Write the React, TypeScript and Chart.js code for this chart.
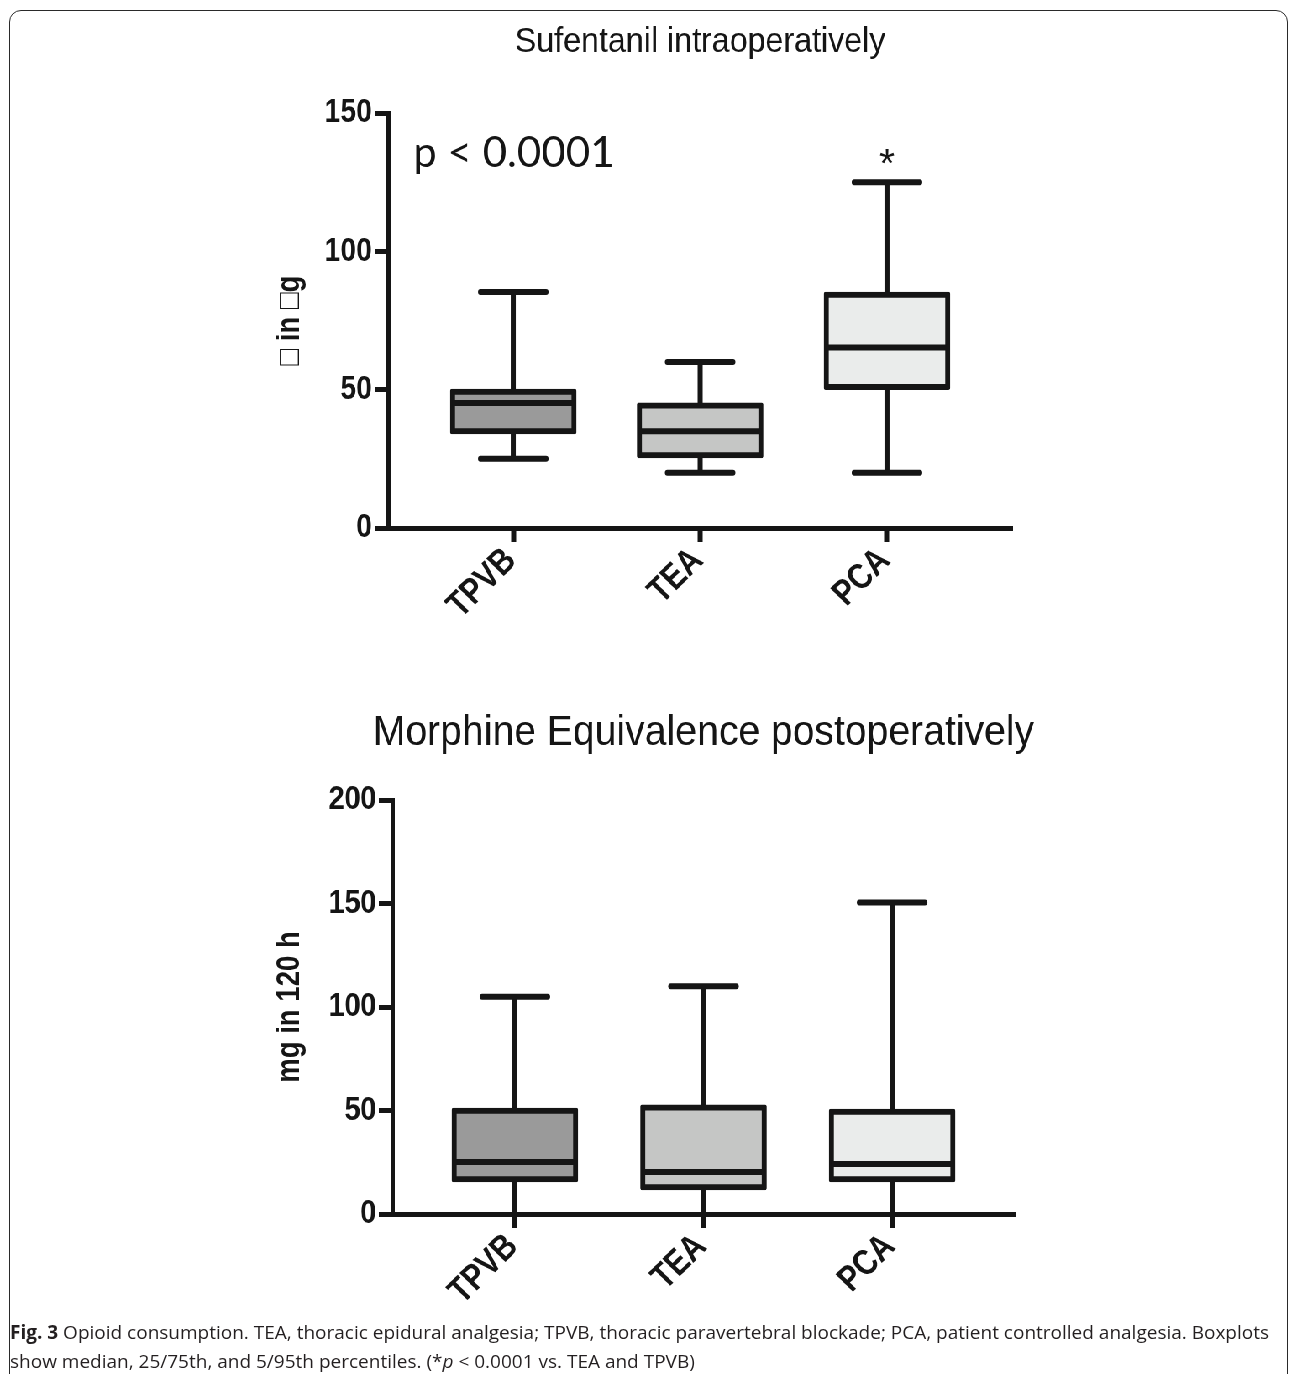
import React, { useEffect, useRef } from 'react';
import { Chart, registerables } from 'chart.js';

Chart.register(...registerables);

// ---------- data ----------
const categories = ['TPVB', 'TEA', 'PCA'];
const boxColors = ['#9a9a9a', '#c5c6c5', '#eaeceb'];

// Sufentanil intraoperatively (µg)
const sufLow = [25, 20, 20];
const sufQ1 = [34, 25.3, 50];
const sufMedian = [45.2, 35, 65.2];
const sufQ3 = [50.2, 45.2, 85.3];
const sufHigh = [85.3, 60, 125];
const sufTicks = [0, 50, 100, 150];

// Morphine equivalence postoperatively (mg in 120 h)
const morLow = [0, 0, 0];
const morQ1 = [15.5, 11.6, 15.5];
const morMedian = [25.1, 20.3, 24.2];
const morQ3 = [51.2, 52.7, 50.7];
const morHigh = [105, 110, 150.5];
const morTicks = [0, 50, 100, 150, 200];

// ---------- style ----------
const INK = '#151515';
const S = 0.84; // horizontal squeeze of the plot area
const FONT = '"Liberation Sans", Arial, sans-serif';
const FIG_W = 1536;

type Note = {
  text: string;
  font: string;
  narrow: number;
  rot: number;
  align: CanvasTextAlign;
  x: (c: any) => number;
  y: (c: any) => number;
};

const boxPlotPlugin = {
  id: 'boxPlot',
  beforeDatasetsDraw(chart: any, _a: any, o: any) {
    const { ctx } = chart;
    const x = chart.scales.x;
    const y = chart.scales.y;
    ctx.save();
    ctx.strokeStyle = INK;
    ctx.lineWidth = o.whiskerWidth;
    o.low.forEach((lo: number, i: number) => {
      const px = x.getPixelForValue(i);
      const half = o.capWidth / 2;
      const yHi = y.getPixelForValue(o.high[i]);
      const yLo = y.getPixelForValue(lo);
      ctx.lineCap = 'butt';
      ctx.beginPath();
      ctx.moveTo(px, y.getPixelForValue(o.q3[i]));
      ctx.lineTo(px, yHi);
      ctx.moveTo(px, y.getPixelForValue(o.q1[i]));
      ctx.lineTo(px, yLo);
      ctx.stroke();
      ctx.lineCap = 'round';
      ctx.beginPath();
      ctx.moveTo(px - half, yHi);
      ctx.lineTo(px + half, yHi);
      if (yLo < chart.chartArea.bottom - 3) {
        ctx.moveTo(px - half, yLo);
        ctx.lineTo(px + half, yLo);
      }
      ctx.stroke();
    });
    ctx.restore();
  },
  afterDatasetsDraw(chart: any, _a: any, o: any) {
    const { ctx } = chart;
    const y = chart.scales.y;
    const meta = chart.getDatasetMeta(0);
    ctx.save();
    ctx.strokeStyle = INK;
    ctx.lineWidth = o.medianWidth;
    ctx.lineCap = 'butt';
    o.median.forEach((m: number, i: number) => {
      const bar = meta.data[i];
      const half = bar.width / 2;
      const py = y.getPixelForValue(m);
      ctx.beginPath();
      ctx.moveTo(bar.x - half + 2, py);
      ctx.lineTo(bar.x + half - 2, py);
      ctx.stroke();
    });
    ctx.restore();
  },
  afterDraw(chart: any, _a: any, o: any) {
    const { ctx } = chart;
    ctx.save();
    ctx.fillStyle = INK;
    ctx.textBaseline = 'middle';
    (o.notes as Note[]).forEach((n) => {
      ctx.save();
      ctx.font = n.font;
      ctx.textAlign = n.align;
      ctx.translate(n.x(chart), n.y(chart));
      ctx.scale(1 / S, 1); // undo the page squeeze
      ctx.rotate(n.rot);
      ctx.scale(n.narrow, 1); // narrow glyphs along the text direction
      ctx.fillText(n.text, 0, 0);
      ctx.restore();
    });
    ctx.restore();
  },
};

type Spec = {
  low: number[];
  q1: number[];
  median: number[];
  q3: number[];
  high: number[];
  yTicks: number[];
  yTitle: string;
  xMin: number;
  xMax: number;
  padTop: number;
  padRight: number;
  yWidth: number;
  xHeight: number;
  notes: Note[];
};

function axisNotes(yTitle: string): Note[] {
  const labels: Note[] = categories.map((cat, i) => ({
    text: cat,
    font: `bold 36px ${FONT}`,
    narrow: 0.84,
    rot: -Math.PI / 4,
    align: 'right' as CanvasTextAlign,
    x: (c: any) => c.scales.x.getPixelForValue(i) - 3,
    y: (c: any) => c.chartArea.bottom + 27,
  }));
  const title: Note = {
    text: yTitle,
    font: `bold 32px ${FONT}`,
    narrow: 0.86,
    rot: -Math.PI / 2,
    align: 'center',
    x: (c: any) => c.scales.y.left + 35,
    y: (c: any) => (c.chartArea.top + c.chartArea.bottom) / 2,
  };
  return [...labels, title];
}

function buildConfig(sp: Spec): any {
  const yMax = sp.yTicks[sp.yTicks.length - 1];
  const gridBase = {
    display: true,
    drawOnChartArea: false,
    drawTicks: true,
    offset: false,
    tickColor: INK,
  };
  return {
    type: 'bar',
    data: {
      datasets: [
        {
          data: categories.map((_, i) => ({ x: i, y: [sp.q1[i], sp.q3[i]] })),
          backgroundColor: boxColors,
          borderColor: INK,
          borderWidth: 6,
          borderSkipped: false,
          borderRadius: 2,
          barThickness: 150,
        },
      ],
    },
    options: {
      responsive: false,
      animation: false,
      events: [],
      devicePixelRatio: 1,
      layout: { padding: { left: 310, right: sp.padRight, top: sp.padTop, bottom: 0 } },
      plugins: {
        legend: { display: false },
        tooltip: { enabled: false },
        title: { display: false },
        boxPlot: {
          low: sp.low,
          q1: sp.q1,
          median: sp.median,
          q3: sp.q3,
          high: sp.high,
          capWidth: 78,
          whiskerWidth: 6,
          medianWidth: 6,
          notes: [...axisNotes(sp.yTitle), ...sp.notes],
        },
      },
      scales: {
        x: {
          type: 'linear',
          offset: false,
          min: sp.xMin,
          max: sp.xMax,
          afterBuildTicks: (s: any) => {
            s.ticks = categories.map((_, i) => ({ value: i }));
          },
          afterFit: (s: any) => {
            s.height = sp.xHeight;
          },
          grid: { ...gridBase, tickLength: 14, tickWidth: 6 },
          border: { display: true, width: 5, color: INK },
          ticks: { display: false },
        },
        y: {
          min: 0,
          max: yMax,
          afterBuildTicks: (s: any) => {
            s.ticks = sp.yTicks.map((v) => ({ value: v }));
          },
          afterFit: (s: any) => {
            s.width = sp.yWidth;
          },
          grid: { ...gridBase, tickLength: 16, tickWidth: 5 },
          border: { display: true, width: 5, color: INK },
          ticks: {
            padding: 3,
            color: INK,
            font: { family: FONT, size: 34, weight: 'bold' },
          },
          title: { display: false },
        },
      },
    },
    plugins: [boxPlotPlugin],
  };
}

const sufSpec: Spec = {
  low: sufLow,
  q1: sufQ1,
  median: sufMedian,
  q3: sufQ3,
  high: sufHigh,
  yTicks: sufTicks,
  yTitle: '\u25A1 in \u25A1g',
  xMin: -0.67,
  xMax: 2.67,
  padTop: 113,
  padRight: FIG_W - 1205,
  yWidth: 462 - 310,
  xHeight: 132,
  notes: [
    {
      text: 'Sufentanil intraoperatively',
      font: `35px ${FONT}`,
      narrow: 0.92,
      rot: 0,
      align: 'center',
      x: (c) => (c.chartArea.left + c.chartArea.right) / 2,
      y: (c) => c.chartArea.top - 71,
    },
    {
      text: 'p < 0.0001',
      font: '42px Lato, "Open Sans", sans-serif',
      narrow: 1,
      rot: 0,
      align: 'left',
      x: (c) => c.chartArea.left + 30,
      y: (c) => c.scales.y.getPixelForValue(135.5),
    },
    {
      text: '*',
      font: `40px ${FONT}`,
      narrow: 1,
      rot: 0,
      align: 'center',
      x: (c) => c.scales.x.getPixelForValue(2),
      y: (c) => c.scales.y.getPixelForValue(131),
    },
  ],
};

const morSpec: Spec = {
  low: morLow,
  q1: morQ1,
  median: morMedian,
  q3: morQ3,
  high: morHigh,
  yTicks: morTicks,
  yTitle: 'mg in 120 h',
  xMin: -0.65,
  xMax: 2.65,
  padTop: 140,
  padRight: FIG_W - 1208,
  yWidth: 467 - 310,
  xHeight: 106,
  notes: [
    {
      text: 'Morphine Equivalence postoperatively',
      font: `43px ${FONT}`,
      narrow: 0.91,
      rot: 0,
      align: 'center',
      x: (c) => (c.chartArea.left + c.chartArea.right) / 2,
      y: (c) => c.chartArea.top - 67,
    },
  ],
};

function BoxChart({ spec, top, height }: { spec: Spec; top: number; height: number }) {
  const ref = useRef<HTMLCanvasElement>(null);
  useEffect(() => {
    const chart = new Chart(ref.current as HTMLCanvasElement, buildConfig(spec));
    return () => chart.destroy();
  }, [spec]);
  return (
    <canvas
      ref={ref}
      width={FIG_W}
      height={height}
      style={{ position: 'absolute', left: 0, top, width: FIG_W, height }}
    />
  );
}

export default function App() {
  return (
    <div
      style={{
        position: 'absolute',
        left: 0,
        top: 0,
        width: 1290,
        height: 1374,
        overflow: 'hidden',
        background: '#ffffff',
      }}
    >
      <div
        style={{
          position: 'absolute',
          left: 0,
          top: 0,
          width: FIG_W,
          height: 1320,
          transform: `scaleX(${S})`,
          transformOrigin: '0 0',
        }}
      >
        <BoxChart spec={sufSpec} top={0} height={660} />
        <BoxChart spec={morSpec} top={660} height={660} />
      </div>
      <div
        style={{
          position: 'absolute',
          left: 10,
          top: 1318,
          whiteSpace: 'nowrap',
          fontFamily: '"Open Sans", "Noto Sans", sans-serif',
          fontSize: 19,
          lineHeight: '29px',
          color: '#231f20',
        }}
      >
        <b>Fig. 3</b> Opioid consumption. TEA, thoracic epidural analgesia; TPVB, thoracic paravertebral
        blockade; PCA, patient controlled analgesia. Boxplots
        <br />
        show median, 25/75th, and 5/95th percentiles. (*<i>p</i> &lt; 0.0001 vs. TEA and TPVB)
      </div>
      <div
        style={{
          position: 'absolute',
          left: 9,
          top: 10,
          width: 1279,
          height: 1420,
          border: '1.5px solid #2a2a2a',
          borderRadius: 12,
          boxSizing: 'border-box',
          pointerEvents: 'none',
        }}
      />
    </div>
  );
}
